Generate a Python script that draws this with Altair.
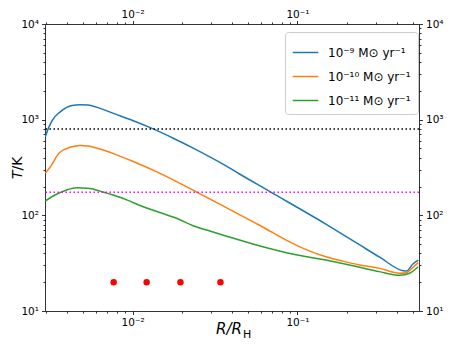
import altair as alt
import pandas as pd

# ---- data ----
labels = ["10⁻⁹ M⊙ yr⁻¹", "10⁻¹⁰ M⊙ yr⁻¹", "10⁻¹¹ M⊙ yr⁻¹"]
colors = ["#1f77b4", "#ff7f0e", "#2ca02c"]

blue_R = [0.00295, 0.00308, 0.00326, 0.00362, 0.00429, 0.00480, 0.00536, 0.00634,
          0.00764, 0.01009, 0.01334, 0.01762, 0.02328, 0.03639, 0.04426, 0.06730,
          0.1486, 0.2387, 0.3155, 0.4365, 0.459, 0.501, 0.540]
blue_T = [658, 811, 991, 1200, 1409, 1432, 1422, 1312,
          1164, 975, 800, 640, 505, 333, 272, 179,
          81, 49, 36.5, 26.4, 26.2, 31.0, 34.1]

orange_R = [0.00295, 0.00316, 0.00359, 0.00417, 0.00480, 0.00536, 0.00634, 0.00764,
            0.01009, 0.01531, 0.02443, 0.03673, 0.05848, 0.09333, 0.1178, 0.1486,
            0.1885, 0.2387, 0.3155, 0.4169, 0.458, 0.5023, 0.540]
orange_T = [275, 319, 451, 514, 538, 530, 493, 442,
            365, 265, 175, 121, 79.3, 50.9, 42.5, 36.9,
            33.2, 30.3, 27.9, 24.8, 25.1, 28.6, 32.0]

green_R = [0.00295, 0.00338, 0.00398, 0.00458, 0.00551, 0.00634, 0.00764, 0.00920,
           0.01159, 0.01462, 0.01849, 0.02328, 0.02938, 0.03639, 0.05848, 0.09333,
           0.1486, 0.2387, 0.3126, 0.4169, 0.4786, 0.540]
green_T = [141, 163, 184, 194, 191, 179, 163, 145,
           123, 107, 93.1, 77.8, 68.5, 61.2, 48.1, 39.4,
           34.1, 28.6, 25.8, 23.6, 24.8, 29.0]

dots_R = [0.00767, 0.01216, 0.0195, 0.0341]
dots_T = [20, 20, 20, 20]

hline_black_T = [800]
hline_magenta_T = [174]

x_major = [0.01, 0.1]
x_minor = [0.003, 0.004, 0.005, 0.006, 0.007, 0.008, 0.009,
           0.02, 0.03, 0.04, 0.05, 0.06, 0.07, 0.08, 0.09,
           0.2, 0.3, 0.4, 0.5]
y_major = [10, 100, 1000, 10000]
y_minor = [20, 30, 40, 50, 60, 70, 80, 90,
           200, 300, 400, 500, 600, 700, 800, 900,
           2000, 3000, 4000, 5000, 6000, 7000, 8000, 9000]

XDOM = [0.00294, 0.546]
YDOM = [10, 10000]

# ---- tables ----
rows = []
for lab, Rs, Ts in zip(labels, [blue_R, orange_R, green_R], [blue_T, orange_T, green_T]):
    for r, t in zip(Rs, Ts):
        rows.append({"R": r, "T": t, "series": lab})
df = pd.DataFrame(rows)
dots_df = pd.DataFrame({"R": dots_R, "T": dots_T})

x_ticks = sorted(x_major + x_minor)
y_ticks = sorted(y_major + y_minor)

MAJOR = "abs(log(datum.value)/LN10 - round(log(datum.value)/LN10)) < 0.001"
tick_size = {"condition": {"test": MAJOR, "value": 3.5}, "value": 2}

X_LABELS = ("abs(datum.value-0.01)<1e-9 ? '10⁻²' : "
            "abs(datum.value-0.1)<1e-9 ? '10⁻¹' : ''")
Y_LABELS = ("datum.value==10 ? '10¹' : datum.value==100 ? '10²' : "
            "datum.value==1000 ? '10³' : datum.value==10000 ? '10⁴' : ''")

common = dict(title=None, domainColor="black", domainWidth=0.8, tickColor="black",
              tickWidth=0.8, tickSize=tick_size, labelColor="black",
              labelFont="DejaVu Sans", labelFontSize=10.5, labelOverlap=False,
              labelFlush=False, labelBound=False, grid=False)


def xaxis(orient, pad):
    return alt.Axis(orient=orient, values=x_ticks, labelExpr=X_LABELS,
                    labelPadding=pad, **common)


def yaxis(orient):
    return alt.Axis(orient=orient, values=y_ticks, labelExpr=Y_LABELS,
                    labelPadding=3, **common)


xscale = alt.Scale(type="log", domain=XDOM, nice=False)
yscale = alt.Scale(type="log", domain=YDOM, nice=False)

lines = alt.Chart(df).mark_line(strokeWidth=1.5, clip=True, interpolate="monotone").encode(
    x=alt.X("R:Q", scale=xscale, axis=xaxis("bottom", 3)),
    y=alt.Y("T:Q", scale=yscale, axis=yaxis("left")),
    color=alt.Color(
        "series:N",
        scale=alt.Scale(domain=labels, range=colors),
        sort=labels,
        legend=alt.Legend(
            orient="none", legendX=240, legendY=8, title=None,
            symbolType="stroke", symbolSize=650, symbolStrokeWidth=1.5,
            labelFont="DejaVu Sans", labelFontSize=12, labelColor="black",
            labelOffset=9, labelLimit=0,
            fillColor="rgba(255,255,255,0.8)", strokeColor="#cccccc",
            cornerRadius=3, padding=7, rowPadding=4,
        ),
    ),
)

dots = alt.Chart(dots_df).mark_circle(color="red", size=42, opacity=1).encode(
    x=alt.X("R:Q", scale=xscale, axis=xaxis("top", 1.5)),
    y=alt.Y("T:Q", scale=yscale, axis=yaxis("right")),
)

rule_black = alt.Chart(pd.DataFrame({"T": hline_black_T})).mark_rule(
    color="black", strokeDash=[1.5, 2.5], strokeWidth=1.5
).encode(y=alt.Y("T:Q", scale=yscale, axis=None))

rule_magenta = alt.Chart(pd.DataFrame({"T": hline_magenta_T})).mark_rule(
    color="#ff00ff", strokeDash=[1.5, 2.5], strokeWidth=1.5
).encode(y=alt.Y("T:Q", scale=yscale, axis=None))

one = alt.Data(values=[{}])
xt1 = alt.Chart(one).mark_text(text="R/R", font="DejaVu Sans", fontSize=15,
                               fontStyle="italic", align="right",
                               baseline="alphabetic", color="black").encode(
    x=alt.value(197), y=alt.value(309.5))
xt2 = alt.Chart(one).mark_text(text="H", font="DejaVu Sans", fontSize=11,
                               align="left", baseline="alphabetic",
                               color="black").encode(
    x=alt.value(198), y=alt.value(313.5))
yt1 = alt.Chart(one).mark_text(text="T", font="DejaVu Sans", fontSize=14,
                               fontStyle="italic", align="left", angle=270,
                               baseline="alphabetic", color="black").encode(
    x=alt.value(-23), y=alt.value(155))
yt2 = alt.Chart(one).mark_text(text="/K", font="DejaVu Sans", fontSize=14,
                               align="left", angle=270,
                               baseline="alphabetic", color="black").encode(
    x=alt.value(-23), y=alt.value(146.4))

chart = alt.layer(
    lines, rule_black, rule_magenta, dots, xt1, xt2, yt1, yt2
).resolve_axis(x="independent", y="independent").properties(
    width=374, height=287,
    padding={"left": 37, "top": 16, "right": 25, "bottom": 30},
    autosize=alt.AutoSizeParams(type="none"),
    background="white",
).configure_view(stroke=None)

chart.save("out.html", embed_options={"renderer": "svg", "actions": False})
